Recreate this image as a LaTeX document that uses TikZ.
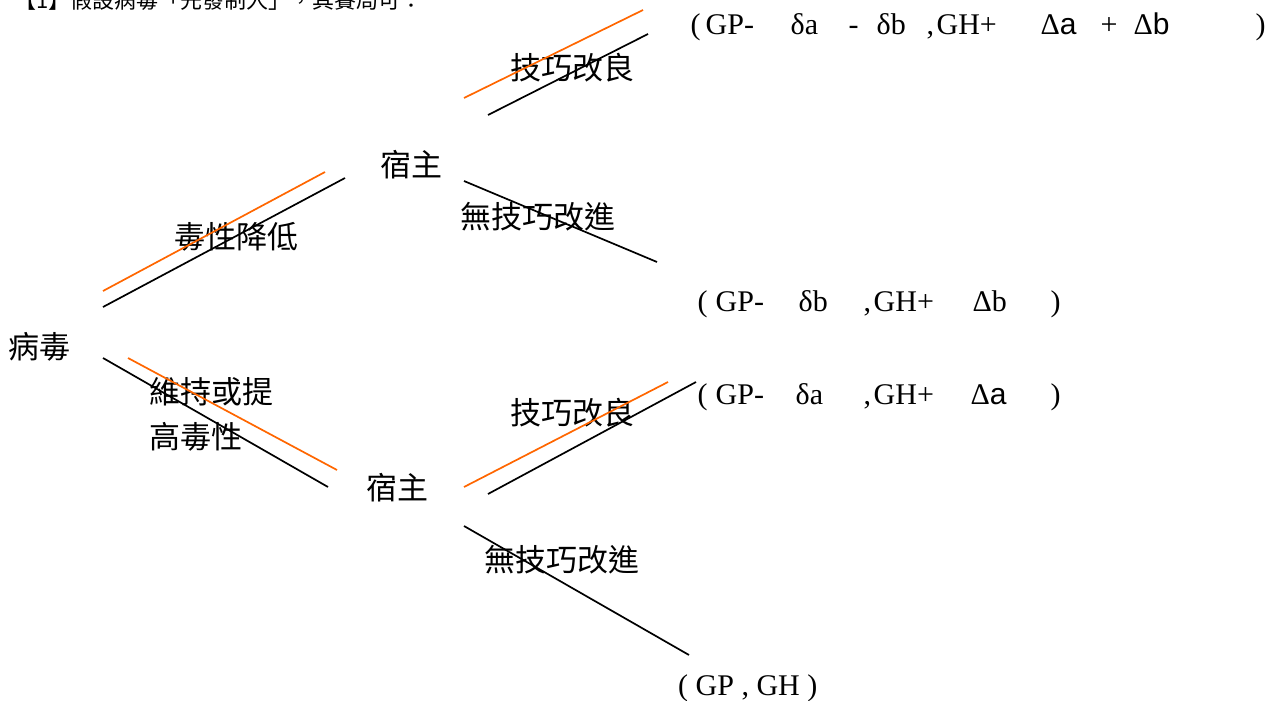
\documentclass[tikz,border=0pt]{standalone}
\usepackage{fontspec}
\setmainfont{Liberation Serif}
\newfontfamily\cjk{Noto Sans CJK TC}
\newfontfamily\sansf{Liberation Sans}
\definecolor{branchorange}{RGB}{255,102,0}
\newcommand\tk[2]{\makebox[0pt][l]{\hspace{#1pt}#2}}
\tikzset{
  cn/.style={font=\cjk\fontsize{31}{37}\selectfont, inner sep=0pt},
  res/.style={font=\fontsize{30}{36}\selectfont, inner sep=0pt, anchor=west},
  blk/.style={line width=1.7pt, black},
  org/.style={line width=1.7pt, branchorange},
}
\begin{document}
\begin{tikzpicture}[x=1pt,y=-1pt]
\useasboundingbox (0,0) rectangle (1286,701);
% header (cut by the page top, as in the reference)
\node[font=\cjk\fontsize{22}{26}\selectfont, inner sep=0pt, anchor=base west] (title) at (14,9) {【1】假設病毒「先發制人」，其賽局可：};
% labels
\node[cn] (virus) at (40,347) {病毒};
\node[cn] (hostU) at (411,165) {宿主};
\node[cn] (hostL) at (397,488) {宿主};
\node[cn] (lowTox) at (236,237) {毒性降低};
\node[cn, anchor=west] (keep1) at (149,392) {維持或提};
\node[cn, anchor=west] (keep2) at (149,437) {高毒性};
\node[cn] (impU) at (572,68) {技巧改良};
\node[cn] (impL) at (572,413) {技巧改良};
\node[cn] (noU) at (538,217) {無技巧改進};
\node[cn] (noL) at (562,560) {無技巧改進};
% results
\node[res] (r1) at (690,27) {\tk{0}{(}\tk{15}{GP-}\tk{100}{δa}\tk{158}{-}\tk{186}{δb}\tk{236}{,}\tk{246}{GH+}\tk{350}{Δ{\sansf a}}\tk{410}{+}\tk{443}{Δ{\sansf b}}\tk{565}{)}\hspace{575pt}};
\node[res] (r2) at (697,304) {\tk{0}{(}\tk{18}{GP-}\tk{101}{δb}\tk{166}{,}\tk{176}{GH+}\tk{275}{Δb}\tk{353}{)}\hspace{363pt}};
\node[res] (r3) at (697,397) {\tk{0}{(}\tk{18}{GP-}\tk{98}{δa}\tk{166}{,}\tk{176}{GH+}\tk{273}{Δ{\sansf a}}\tk{353}{)}\hspace{363pt}};
\node[res] (r4) at (678,688) {( GP , GH )};
% branch end points
\coordinate (a1) at (103,291); \coordinate (a2) at (325,172);
\coordinate (b1) at (103,307); \coordinate (b2) at (345,178);
\coordinate (c1) at (103,358); \coordinate (c2) at (328,487);
\coordinate (d1) at (128,358); \coordinate (d2) at (337,470);
\coordinate (e1) at (464,98);  \coordinate (e2) at (643,10);
\coordinate (f1) at (488,115); \coordinate (f2) at (648,34);
\coordinate (g1) at (464,181); \coordinate (g2) at (657,262);
\coordinate (h1) at (464,487); \coordinate (h2) at (668,382);
\coordinate (i1) at (488,494); \coordinate (i2) at (696,382);
\coordinate (j1) at (464,526); \coordinate (j2) at (689,655);
\draw[org] (a1) -- (a2);
\draw[blk] (b1) -- (b2);
\draw[blk] (c1) -- (c2);
\draw[org] (d1) -- (d2);
\draw[org] (e1) -- (e2);
\draw[blk] (f1) -- (f2);
\draw[blk] (g1) -- (g2);
\draw[org] (h1) -- (h2);
\draw[blk] (i1) -- (i2);
\draw[blk] (j1) -- (j2);
\end{tikzpicture}
\end{document}
